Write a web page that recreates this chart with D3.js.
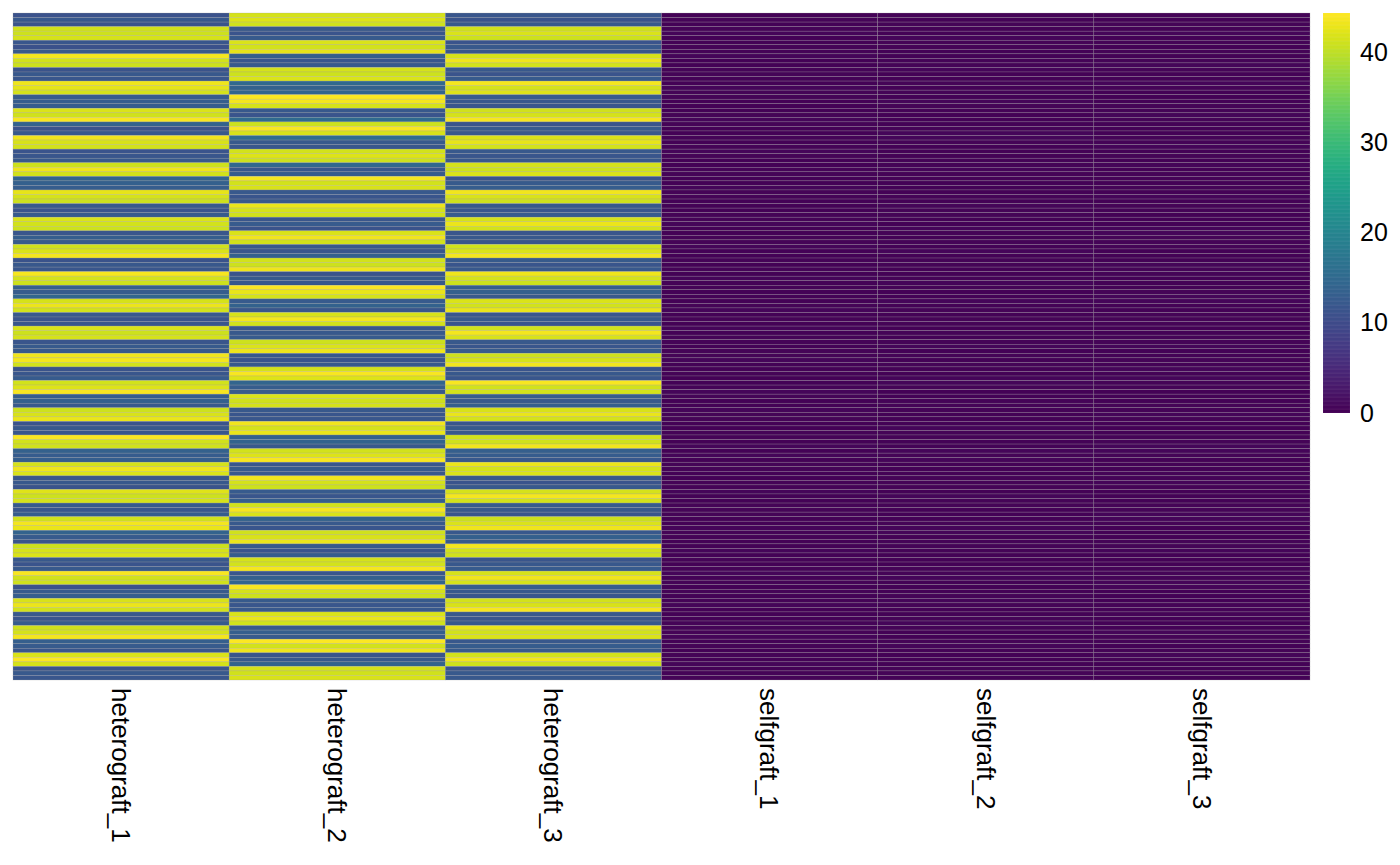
<!DOCTYPE html>
<html>
<head>
<meta charset="utf-8">
<script src="https://cdn.jsdelivr.net/npm/d3@7"></script>
<style>
  html, body { margin: 0; padding: 0; background: #fff; }
  svg { display: block; font-family: "Liberation Sans", Arial, Helvetica, sans-serif; }
</style>
</head>
<body>
<svg id="chart" width="1400" height="865"></svg>
<script>
// ---- data ----
const samples = ["heterograft_1", "heterograft_2", "heterograft_3", "selfgraft_1", "selfgraft_2", "selfgraft_3"];

const heterograft_1 = [
  11.2,12.0,11.5, 41.3,41.0,41.6, 11.8,11.0,12.3, 43.6,41.4,41.1, 11.4,12.1,11.9, 43.2,42.6,41.5, 12.6,13.0,12.8,
  41.8,41.2,43.9, 13.8,11.2,12.0, 43.5,41.7,41.3, 11.5,11.9,12.2, 41.0,43.3,41.4, 14.2,13.5,12.9, 42.7,41.6,41.1,
  12.2,11.6,12.4, 41.9,41.3,41.0, 11.9,13.1,12.5, 41.2,41.9,43.6, 11.4,12.0,11.8, 43.8,41.5,41.0, 13.3,12.7,14.5,
  41.6,43.1,41.3, 12.1,11.5,11.9, 41.9,41.1,41.5, 11.7,12.4,12.0, 43.4,43.7,41.4, 11.3,11.8,12.6, 41.3,42.0,44.0,
  12.9,13.4,12.2, 41.0,41.7,42.9, 11.6,12.3,11.9, 44.1,41.4,41.2, 13.6,12.8,13.1, 41.5,43.2,41.8, 11.8,12.1,11.4,
  42.2,41.0,41.6, 12.4,11.9,12.7, 41.3,43.6,43.0, 14.0,12.5,11.7, 41.1,41.5,41.9, 12.0,11.6,12.3, 43.9,41.4,41.2,
  11.2,12.4,13.0, 41.7,43.1,41.3, 12.2,11.7,12.5, 41.2,41.6,43.7, 13.2,12.6,11.9, 41.8,44.1,41.5, 11.5,12.2,11.8
];
const heterograft_2 = [
  41.5,42.0,41.2, 12.1,11.6,12.4, 41.8,41.3,42.8, 13.2,11.9,12.3, 41.6,41.0,41.9, 14.8,13.6,14.1, 44.2,43.6,41.5,
  12.0,11.5,15.2, 41.1,44.0,41.7, 15.6,12.2,11.8, 41.4,42.0,41.0, 14.6,11.9,12.5, 43.8,41.3,41.7, 12.3,11.7,12.0,
  43.0,41.5,41.2, 11.9,12.6,11.4, 41.8,43.5,41.4, 12.2,11.8,13.5, 41.3,41.1,43.2, 11.6,12.4,12.1, 44.1,42.9,41.6,
  12.5,13.8,11.9, 41.7,43.7,41.3, 11.8,12.2,12.6, 41.0,41.8,43.3, 12.0,11.5,12.3, 41.5,43.9,42.1, 14.3,12.9,12.4,
  41.9,41.2,41.6, 12.1,11.7,11.9, 43.5,41.5,43.0, 13.4,14.0,12.2, 41.4,42.0,43.9, 11.9,12.4,12.0, 43.4,41.6,41.1,
  12.6,11.8,13.1, 41.3,43.8,41.8, 13.9,12.3,11.7, 41.2,41.7,43.1, 12.2,11.6,12.8, 41.6,41.3,43.6, 11.8,13.5,14.2,
  44.0,41.5,41.0, 12.4,11.9,12.1, 41.8,42.9,41.3, 12.0,13.2,12.6, 44.2,41.4,43.2, 11.7,12.2,14.0, 41.5,41.2,41.7
];
const heterograft_3 = [
  11.9,11.4,12.2, 41.3,41.9,41.1, 11.6,12.3,11.8, 41.7,43.3,41.4, 12.0,11.5,12.4, 43.6,41.5,42.0, 12.5,12.1,11.9,
  41.2,41.6,43.8, 11.7,12.6,12.2, 41.8,42.8,41.3, 12.3,11.8,12.0, 41.5,41.0,41.9, 11.6,12.4,13.0, 43.5,41.7,41.2,
  12.1,11.9,12.5, 41.6,43.1,41.4, 11.8,12.2,11.5, 41.3,41.8,43.7, 12.4,11.7,12.1, 43.2,41.5,41.1, 12.9,13.4,12.2,
  41.9,41.3,43.0, 11.9,12.3,11.6, 41.4,43.7,41.7, 12.2,11.8,12.6, 41.1,41.6,43.4, 11.5,12.1,11.9, 43.9,41.4,41.3,
  12.7,12.3,13.1, 41.7,42.9,41.5, 11.8,12.4,12.0, 41.3,41.2,43.5, 13.3,12.8,12.1, 43.1,41.6,41.9, 12.0,11.6,12.3,
  41.5,43.6,41.3, 12.6,12.2,11.8, 41.0,41.8,43.3, 12.1,13.5,12.4, 43.7,41.4,41.2, 11.7,12.0,12.5, 41.6,43.2,41.5,
  12.8,12.2,11.9, 41.3,41.7,43.8, 12.3,11.8,12.1, 43.0,41.3,41.8, 12.0,12.7,12.4, 41.4,43.5,41.1, 11.6,12.3,12.0
];
const selfgraft_1 = [
  0.3,0.5,0.2, 0.4,0.6,0.3, 0.2,0.4,0.5, 0.6,0.3,0.2, 0.4,0.5,0.3, 0.2,0.6,0.4, 0.5,0.3,0.2,
  0.3,0.4,0.6, 0.5,0.2,0.3, 0.4,0.3,0.5, 0.6,0.4,0.2, 0.3,0.5,0.4, 0.2,0.3,0.6, 0.5,0.4,0.3,
  0.3,0.2,0.5, 0.4,0.6,0.3, 0.2,0.5,0.4, 0.6,0.3,0.2, 0.4,0.2,0.5, 0.3,0.6,0.4, 0.5,0.3,0.2,
  0.2,0.4,0.6, 0.3,0.5,0.3, 0.6,0.2,0.4, 0.4,0.3,0.5, 0.5,0.6,0.2, 0.3,0.4,0.3, 0.2,0.5,0.6,
  0.4,0.3,0.2, 0.6,0.4,0.5, 0.3,0.2,0.4, 0.5,0.3,0.6, 0.2,0.6,0.3, 0.4,0.5,0.2, 0.3,0.4,0.5,
  0.6,0.2,0.3, 0.5,0.4,0.4, 0.2,0.3,0.6, 0.4,0.5,0.3, 0.3,0.6,0.2, 0.5,0.2,0.4, 0.6,0.3,0.5,
  0.2,0.4,0.3, 0.4,0.6,0.2, 0.3,0.3,0.5, 0.5,0.4,0.6, 0.2,0.5,0.3, 0.4,0.2,0.6, 0.3,0.5,0.4
];
const selfgraft_2 = [
  0.4,0.2,0.5, 0.3,0.3,0.6, 0.5,0.4,0.2, 0.2,0.5,0.4, 0.6,0.3,0.3, 0.4,0.2,0.5, 0.3,0.6,0.4,
  0.5,0.3,0.2, 0.2,0.4,0.6, 0.6,0.5,0.3, 0.3,0.2,0.4, 0.4,0.6,0.5, 0.5,0.3,0.2, 0.2,0.4,0.3,
  0.6,0.5,0.4, 0.3,0.2,0.6, 0.4,0.3,0.5, 0.2,0.6,0.3, 0.5,0.4,0.2, 0.3,0.5,0.6, 0.4,0.2,0.3,
  0.6,0.3,0.4, 0.2,0.5,0.5, 0.3,0.4,0.2, 0.5,0.6,0.3, 0.4,0.2,0.4, 0.2,0.3,0.6, 0.6,0.5,0.2,
  0.3,0.4,0.5, 0.5,0.2,0.3, 0.2,0.6,0.4, 0.4,0.3,0.2, 0.6,0.5,0.6, 0.3,0.2,0.3, 0.5,0.4,0.4,
  0.2,0.6,0.5, 0.4,0.3,0.2, 0.3,0.5,0.6, 0.6,0.2,0.4, 0.5,0.4,0.3, 0.2,0.3,0.5, 0.4,0.6,0.2,
  0.3,0.2,0.4, 0.6,0.5,0.3, 0.2,0.4,0.6, 0.5,0.3,0.2, 0.4,0.6,0.5, 0.3,0.2,0.3, 0.5,0.4,0.2
];
const selfgraft_3 = [
  0.5,0.3,0.4, 0.2,0.6,0.3, 0.4,0.2,0.5, 0.3,0.4,0.6, 0.5,0.2,0.3, 0.6,0.5,0.2, 0.2,0.3,0.4,
  0.4,0.6,0.5, 0.3,0.3,0.2, 0.5,0.4,0.6, 0.2,0.5,0.3, 0.6,0.2,0.4, 0.4,0.3,0.5, 0.3,0.6,0.2,
  0.5,0.4,0.3, 0.2,0.2,0.6, 0.6,0.5,0.4, 0.4,0.3,0.2, 0.3,0.6,0.5, 0.5,0.2,0.3, 0.2,0.4,0.6,
  0.6,0.3,0.2, 0.4,0.5,0.4, 0.3,0.2,0.5, 0.5,0.6,0.3, 0.2,0.4,0.2, 0.6,0.3,0.6, 0.4,0.5,0.3,
  0.3,0.2,0.4, 0.5,0.6,0.5, 0.2,0.3,0.2, 0.4,0.4,0.6, 0.6,0.5,0.3, 0.3,0.2,0.5, 0.5,0.6,0.4,
  0.2,0.3,0.2, 0.4,0.5,0.6, 0.6,0.4,0.3, 0.3,0.2,0.5, 0.5,0.6,0.2, 0.2,0.3,0.4, 0.4,0.5,0.6,
  0.6,0.2,0.3, 0.3,0.4,0.5, 0.5,0.3,0.2, 0.2,0.6,0.4, 0.4,0.2,0.5, 0.6,0.5,0.3, 0.3,0.4,0.2
];
const legendTicks = [0, 10, 20, 30, 40];
const colorMin = 0, colorMax = 44.4;

// ---- drawing ----
const columns = [heterograft_1, heterograft_2, heterograft_3, selfgraft_1, selfgraft_2, selfgraft_3];
const nRows = heterograft_1.length;
const cells = [];
columns.forEach((col, ci) => col.forEach((v, ri) => cells.push({ col: samples[ci], row: ri, value: v })));

const svg = d3.select("#chart");
const hm = { left: 13, top: 13, right: 1310, bottom: 680 };

const x = d3.scaleBand().domain(samples).range([hm.left, hm.right]);
const y = d3.scaleBand().domain(d3.range(nRows)).range([hm.top, hm.bottom]);
const color = d3.scaleSequential(d3.interpolateViridis).domain([colorMin, colorMax]);

svg.append("g").selectAll("rect").data(cells).join("rect")
  .attr("x", d => x(d.col))
  .attr("y", d => y(d.row))
  .attr("width", x.bandwidth())
  .attr("height", y.bandwidth())
  .attr("fill", d => color(d.value))
  .attr("stroke", "rgba(160,160,160,0.5)")
  .attr("stroke-width", 0.5);

// column labels (rotated)
const xAxis = d3.axisBottom(x).tickSize(0).tickPadding(0);
const gx = svg.append("g").attr("transform", `translate(0,${hm.bottom + 8})`).call(xAxis);
gx.select(".domain").remove();
gx.selectAll("text")
  .attr("transform", "rotate(90)")
  .attr("x", 0).attr("y", 0).attr("dy", "0.35em")
  .attr("text-anchor", "start")
  .attr("fill", "#000")
  .style("font-size", "26px")
  .style("font-family", "'Liberation Sans', Arial, sans-serif");

// color legend
const lg = { left: 1323, width: 27, top: 13, bottom: 413 };
const ly = d3.scaleLinear().domain([colorMin, colorMax]).range([lg.bottom, lg.top]);
const nSteps = 100;
const steps = d3.range(nSteps).map(i => colorMin + (colorMax - colorMin) * i / nSteps);
const stepH = (lg.bottom - lg.top) / nSteps;
svg.append("g").selectAll("rect").data(steps).join("rect")
  .attr("x", lg.left)
  .attr("y", d => ly(d) - stepH)
  .attr("width", lg.width)
  .attr("height", stepH)
  .attr("fill", d => color(d + (colorMax - colorMin) / nSteps / 2))
  .attr("stroke", "rgba(255,255,255,0.12)")
  .attr("stroke-width", 0.5);

const legendAxis = d3.axisRight(ly).tickValues(legendTicks).tickSize(0).tickPadding(0);
const gl = svg.append("g").attr("transform", `translate(${lg.left + lg.width + 10},0)`).call(legendAxis);
gl.select(".domain").remove();
gl.selectAll("text")
  .attr("fill", "#000")
  .style("font-size", "25px")
  .style("font-family", "'Liberation Sans', Arial, sans-serif");
</script>
</body>
</html>
